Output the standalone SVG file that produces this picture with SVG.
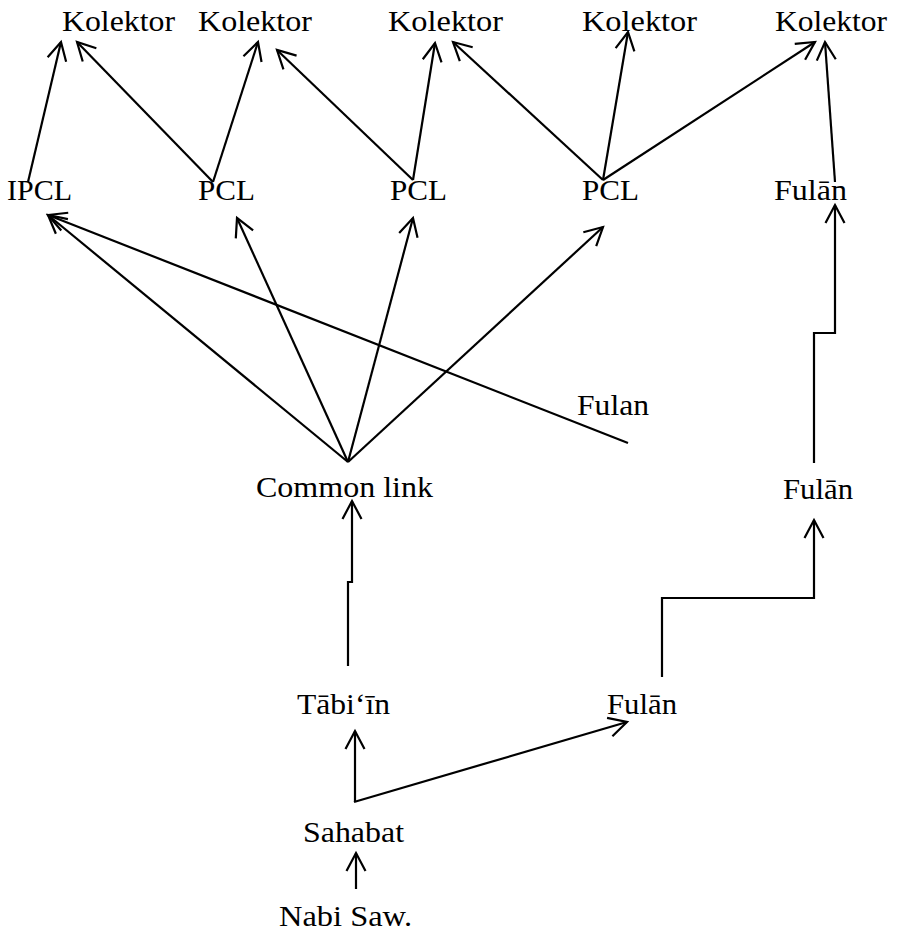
<svg xmlns="http://www.w3.org/2000/svg" width="897" height="931" viewBox="0 0 897 931">
<style>
.t{font-family:'Liberation Serif','Times New Roman',serif;font-size:30px;fill:#000}
.c{fill:none;stroke:#000;stroke-width:2.2;marker-end:url(#ah)}
</style>
<defs>
<marker id="ah" markerUnits="userSpaceOnUse" markerWidth="24" markerHeight="22" viewBox="0 0 24 22" refX="20" refY="11" orient="auto" overflow="visible">
<path d="M2,1.5 L20,11 L2,20.5" fill="none" stroke="#000" stroke-width="2.2"/>
</marker>
</defs>
<rect width="897" height="931" fill="#fff"/>
<g id="connectors">
<line class="c" x1="28" y1="182" x2="61" y2="42"/>
<line class="c" x1="213" y1="182" x2="77" y2="42"/>
<line class="c" x1="213" y1="182" x2="258" y2="42"/>
<line class="c" x1="413" y1="180" x2="277" y2="50"/>
<line class="c" x1="413" y1="180" x2="435" y2="43"/>
<line class="c" x1="603" y1="180" x2="453" y2="42"/>
<line class="c" x1="603" y1="180" x2="628" y2="32"/>
<line class="c" x1="603" y1="180" x2="815" y2="42"/>
<line class="c" x1="835" y1="182" x2="825" y2="42"/>
<line class="c" x1="348" y1="462" x2="48" y2="215"/>
<line class="c" x1="628" y1="443" x2="48" y2="215"/>
<line class="c" x1="348" y1="462" x2="237" y2="218"/>
<line class="c" x1="348" y1="462" x2="413" y2="218"/>
<line class="c" x1="348" y1="462" x2="603" y2="227"/>
<path class="c" d="M814,463 L814,333 L835,333 L835,205"/>
<path class="c" d="M348,666 L348,582 L352,582 L352,501"/>
<path class="c" d="M662,677 L662,598 L814,598 L814,520"/>
<path class="c" d="M355,802 L355,731"/>
<line class="c" x1="354" y1="802" x2="627" y2="722"/>
<path class="c" d="M356,889 L356,853"/>
</g>
<g id="kolektor1"><text class="t" x="62" y="31" textLength="113" lengthAdjust="spacingAndGlyphs">Kolektor</text></g>
<g id="kolektor2"><text class="t" x="198" y="31" textLength="114" lengthAdjust="spacingAndGlyphs">Kolektor</text></g>
<g id="kolektor3"><text class="t" x="388" y="31" textLength="115" lengthAdjust="spacingAndGlyphs">Kolektor</text></g>
<g id="kolektor4"><text class="t" x="582" y="31" textLength="115" lengthAdjust="spacingAndGlyphs">Kolektor</text></g>
<g id="kolektor5"><text class="t" x="775" y="31" textLength="112" lengthAdjust="spacingAndGlyphs">Kolektor</text></g>
<g id="ipcl"><text class="t" x="7" y="200" textLength="65" lengthAdjust="spacingAndGlyphs">IPCL</text></g>
<g id="pcl1"><text class="t" x="198" y="200" textLength="57" lengthAdjust="spacingAndGlyphs">PCL</text></g>
<g id="pcl2"><text class="t" x="390" y="200" textLength="57" lengthAdjust="spacingAndGlyphs">PCL</text></g>
<g id="pcl3"><text class="t" x="582" y="200" textLength="57" lengthAdjust="spacingAndGlyphs">PCL</text></g>
<g id="fulan-top"><text class="t" x="774" y="200" textLength="73" lengthAdjust="spacingAndGlyphs">Fulān</text></g>
<g id="fulan-plain"><text class="t" x="577" y="415" textLength="72" lengthAdjust="spacingAndGlyphs">Fulan</text></g>
<g id="common-link"><text class="t" x="256" y="497" textLength="177" lengthAdjust="spacingAndGlyphs">Common link</text></g>
<g id="fulan-mid"><text class="t" x="783" y="499" textLength="70" lengthAdjust="spacingAndGlyphs">Fulān</text></g>
<g id="tabiin"><text class="t" x="297" y="714" textLength="93" lengthAdjust="spacingAndGlyphs">Tābi‘īn</text></g>
<g id="fulan-low"><text class="t" x="607" y="714" textLength="70" lengthAdjust="spacingAndGlyphs">Fulān</text></g>
<g id="sahabat"><text class="t" x="303" y="842" textLength="101" lengthAdjust="spacingAndGlyphs">Sahabat</text></g>
<g id="nabi"><text class="t" x="279" y="926" textLength="133" lengthAdjust="spacingAndGlyphs">Nabi Saw.</text></g>
</svg>
